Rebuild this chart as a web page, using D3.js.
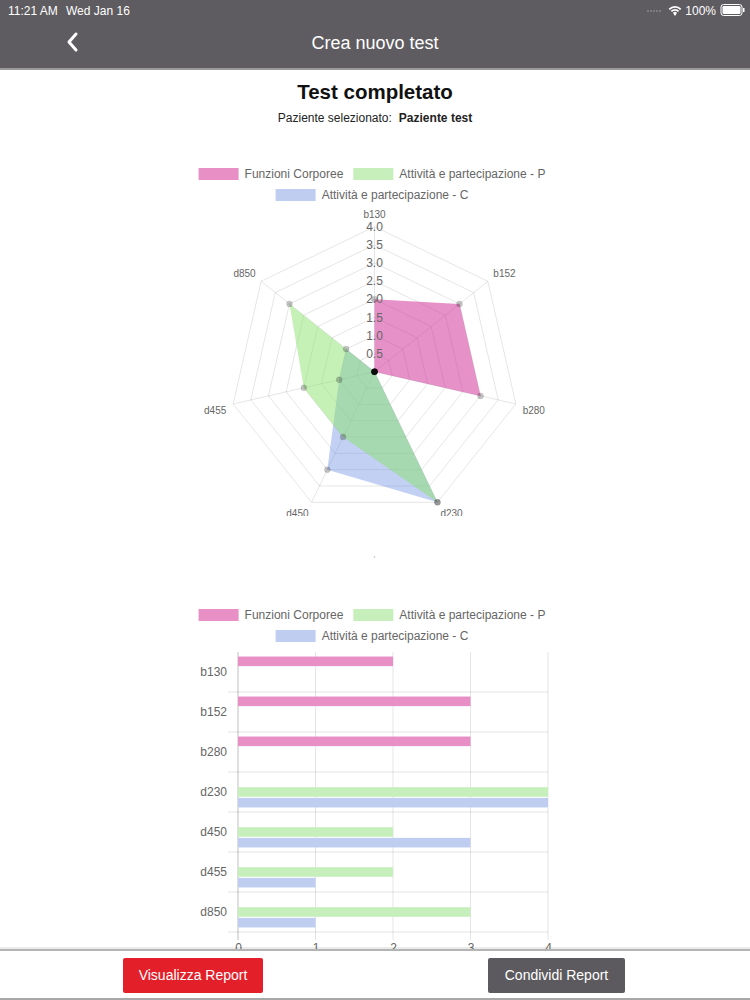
<!DOCTYPE html>
<html>
<head>
<meta charset="utf-8">
<script src="https://cdn.jsdelivr.net/npm/d3@7"></script>
<style>
  body { margin: 0; background: #fff; }
  svg { display: block; font-family: 'Liberation Sans', Arial, sans-serif; }
</style>
</head>
<body>
<div id="app"></div>
<script>
// data
const categories = ['b130', 'b152', 'b280', 'd230', 'd450', 'd455', 'd850']
const funzioniCorporee = [2, 3, 3, 0, 0, 0, 0]
const attivitaP = [0, 0, 0, 4, 2, 2, 3]
const attivitaC = [0, 0, 0, 4, 3, 1, 1]
const seriesNames = ['Funzioni Corporee', 'Attività e partecipazione - P', 'Attività e partecipazione - C']
const radarTicks = [0.5, 1, 1.5, 2, 2.5, 3, 3.5, 4]
const barTicks = [0, 1, 2, 3, 4]

const series = [
  { name: seriesNames[0], values: funzioniCorporee, solid: '#e88fc6', fill: 'rgba(208,46,150,0.52)' },
  { name: seriesNames[1], values: attivitaP, solid: '#c6efbc', fill: 'rgba(140,225,110,0.5)' },
  { name: seriesNames[2], values: attivitaC, solid: '#bfcdf1', fill: 'rgba(120,150,230,0.45)' }
]

const W = 750, H = 1000
const svg = d3.select('#app').append('svg').attr('width', W).attr('height', H)
const grey = '#666'
const gridColor = 'rgba(0,0,0,0.1)'

// ---- header / status bar
svg.append('rect').attr('width', W).attr('height', 68).attr('fill', '#5e5c60')
svg.append('rect').attr('y', 68).attr('width', W).attr('height', 2).attr('fill', '#9a999b')
svg.append('text').attr('x', 8).attr('y', 15).attr('fill', '#fff').attr('font-size', 12)
  .text('11:21 AM')
svg.append('text').attr('x', 66).attr('y', 15).attr('fill', '#fff').attr('font-size', 12)
  .text('Wed Jan 16')
svg.append('text').attr('x', 716).attr('y', 15).attr('fill', '#fff').attr('font-size', 12)
  .attr('text-anchor', 'end').text('100%')
// faint signal dots
svg.append('g').selectAll('circle').data(d3.range(5)).join('circle')
  .attr('cx', d => 648 + d * 3).attr('cy', 11).attr('r', 0.9).attr('fill', '#8d8b8f')
// wifi
const wifi = svg.append('g').attr('transform', 'translate(675,15)')
;[9, 6, 3].forEach(r => {
  wifi.append('path')
    .attr('d', d3.arc()({ innerRadius: r - 1.8, outerRadius: r, startAngle: -Math.PI / 4, endAngle: Math.PI / 4 }))
    .attr('fill', '#fff')
})
wifi.append('circle').attr('cx', 0).attr('cy', -0.5).attr('r', 1.1).attr('fill', '#fff')
// battery
svg.append('rect').attr('x', 721).attr('y', 4.5).attr('width', 21).attr('height', 11).attr('rx', 2.5)
  .attr('fill', 'none').attr('stroke', '#fff').attr('stroke-width', 1)
svg.append('rect').attr('x', 722.5).attr('y', 6).attr('width', 18).attr('height', 8).attr('rx', 1.2).attr('fill', '#fff')
svg.append('rect').attr('x', 743).attr('y', 8).attr('width', 1.5).attr('height', 4).attr('fill', '#fff')
// back chevron + title
svg.append('path').attr('d', 'M76,34 L69,42 L76,50').attr('fill', 'none')
  .attr('stroke', '#fff').attr('stroke-width', 3).attr('stroke-linecap', 'round').attr('stroke-linejoin', 'round')
svg.append('text').attr('x', 375).attr('y', 49).attr('text-anchor', 'middle')
  .attr('fill', '#fff').attr('font-size', 18).text('Crea nuovo test')

// ---- page titles
svg.append('text').attr('x', 375).attr('y', 99).attr('text-anchor', 'middle')
  .attr('font-size', 20.5).attr('font-weight', 'bold').attr('fill', '#111').text('Test completato')
const sub = svg.append('text').attr('x', 375).attr('y', 121.5).attr('text-anchor', 'middle')
  .attr('font-size', 12).attr('fill', '#222')
sub.append('tspan').text('Paziente selezionato:')
sub.append('tspan').attr('dx', 7).attr('font-weight', 'bold').text('Paziente test')

// ---- legend helper (Chart.js style, rows centred)
function measure(txt) {
  const t = svg.append('text').attr('font-size', 12).text(txt)
  const w = t.node().getComputedTextLength()
  t.remove()
  return w
}
function legend(y1, y2) {
  const rows = [[series[0], series[1]], [series[2]]]
  const g = svg.append('g')
  rows.forEach((row, ri) => {
    const widths = row.map(s => 40 + 6 + measure(s.name) + 10)
    const total = d3.sum(widths)
    let x = 377 - total / 2
    const y = ri === 0 ? y1 : y2
    row.forEach((s, i) => {
      g.append('rect').attr('x', x).attr('y', y - 6).attr('width', 40).attr('height', 12).attr('fill', s.solid)
      g.append('text').attr('x', x + 46).attr('y', y).attr('dy', '0.35em')
        .attr('font-size', 12).attr('fill', grey).text(s.name)
      x += widths[i]
    })
  })
}

// ---- radar chart
legend(174, 195)
const cx = 374.5, cy = 371.7
const rScale = d3.scaleLinear().domain([0, 4]).range([0, 145])
const angle = i => i * 2 * Math.PI / categories.length
const pt = (i, v) => [cx + rScale(v) * Math.sin(angle(i)), cy - rScale(v) * Math.cos(angle(i))]

svg.append('defs').append('clipPath').attr('id', 'radarClip')
  .append('rect').attr('x', 0).attr('y', 140).attr('width', W).attr('height', 376)
const radar = svg.append('g').attr('clip-path', 'url(#radarClip)')

// rings
radar.append('g').selectAll('polygon').data(radarTicks).join('polygon')
  .attr('points', v => categories.map((c, i) => pt(i, v).join(',')).join(' '))
  .attr('fill', 'none').attr('stroke', gridColor)
// spokes
radar.append('g').selectAll('line').data(categories).join('line')
  .attr('x1', cx).attr('y1', cy)
  .attr('x2', (c, i) => pt(i, 4)[0]).attr('y2', (c, i) => pt(i, 4)[1])
  .attr('stroke', gridColor)

// datasets, drawn last-to-first like Chart.js
const radarLine = d3.lineRadial().angle((d, i) => angle(i)).radius(d => rScale(d)).curve(d3.curveLinearClosed)
const dsG = radar.append('g').attr('transform', `translate(${cx},${cy})`)
series.slice().reverse().forEach(s => {
  dsG.append('path').attr('d', radarLine(s.values))
    .attr('fill', s.fill).attr('stroke', 'none')
})
series.slice().reverse().forEach(s => {
  dsG.append('g').selectAll('circle').data(s.values).join('circle')
    .attr('cx', (d, i) => rScale(d) * Math.sin(angle(i)))
    .attr('cy', (d, i) => -rScale(d) * Math.cos(angle(i)))
    .attr('r', 3).attr('fill', 'rgba(0,0,0,0.22)').attr('stroke', 'rgba(0,0,0,0.08)')
})

// tick labels
radar.append('g').selectAll('text').data(radarTicks).join('text')
  .attr('x', cx).attr('y', v => cy - rScale(v)).attr('dy', '0.35em')
  .attr('text-anchor', 'middle').attr('font-size', 12).attr('fill', grey)
  .text(v => v.toFixed(1))

// point labels
radar.append('g').selectAll('text').data(categories).join('text')
  .each(function (c, i) {
    const a = angle(i) * 180 / Math.PI
    const lr = rScale(4) + 7
    const x = cx + lr * Math.sin(angle(i))
    const y = cy - lr * Math.cos(angle(i))
    const anchor = (a === 0 || a === 180) ? 'middle' : (a < 180 ? 'start' : 'end')
    let dy = (a < 90 || a > 270) ? '0.05em' : '0.85em'
    if (a === 0) dy = '-0.2em'  // keep clear of the 4.0 tick
    d3.select(this).attr('x', x).attr('y', y).attr('dy', dy).attr('text-anchor', anchor)
  })
  .attr('font-size', 10).attr('fill', grey)
  .text(c => c)

// tiny mark below radar canvas
svg.append('circle').attr('cx', 374.5).attr('cy', 557).attr('r', 0.8).attr('fill', '#bbb')

// ---- horizontal bar chart
legend(615, 636)
const plot = { left: 238, right: 548, top: 652, bottom: 932 }
const x = d3.scaleLinear().domain([0, 4]).range([plot.left, plot.right])
const y = d3.scaleBand().domain(categories).range([plot.top, plot.bottom])
const inner = d3.scaleBand().domain(d3.range(series.length)).range([0, y.bandwidth() * 0.8])
const barH = inner.bandwidth() * 0.9

const bars = svg.append('g')
// horizontal grid lines at band edges
bars.append('g').selectAll('line').data(categories.slice(1).concat(['__end']))
  .join('line')
  .attr('x1', plot.left - 10).attr('x2', plot.right)
  .attr('y1', c => c === '__end' ? plot.bottom : y(c))
  .attr('y2', c => c === '__end' ? plot.bottom : y(c))
  .attr('stroke', gridColor)
// vertical grid lines
bars.append('g').selectAll('line').data(barTicks).join('line')
  .attr('x1', d => x(d)).attr('x2', d => x(d))
  .attr('y1', plot.top).attr('y2', plot.bottom + 8)
  .attr('stroke', d => d === 0 ? 'rgba(0,0,0,0.25)' : gridColor)

series.forEach((s, si) => {
  bars.append('g').selectAll('rect').data(s.values.map((v, i) => ({ v, c: categories[i] })).filter(d => d.v > 0))
    .join('rect')
    .attr('x', x(0))
    .attr('y', d => y(d.c) + y.bandwidth() * 0.1 + inner(si) + (inner.bandwidth() - barH) / 2)
    .attr('width', d => x(d.v) - x(0))
    .attr('height', barH)
    .attr('fill', s.solid)
})

const yAxis = bars.append('g').attr('transform', `translate(${plot.left},0)`)
  .call(d3.axisLeft(y).tickSize(0).tickPadding(11))
yAxis.select('.domain').remove()
yAxis.selectAll('text').attr('font-size', 12).attr('fill', grey).attr('font-family', null)

const xAxis = bars.append('g').attr('transform', `translate(0,${plot.bottom})`)
  .call(d3.axisBottom(x).tickValues(barTicks).tickSize(0).tickPadding(11).tickFormat(d3.format('d')))
xAxis.select('.domain').remove()
xAxis.selectAll('text').attr('font-size', 12).attr('fill', grey).attr('font-family', null)

// ---- bottom toolbar
svg.append('rect').attr('y', 947).attr('width', W).attr('height', 2).attr('fill', 'rgba(0,0,0,0.08)')
svg.append('rect').attr('y', 949).attr('width', W).attr('height', 51).attr('fill', '#fff')
svg.append('rect').attr('y', 949).attr('width', W).attr('height', 2).attr('fill', '#b4b4b4')
svg.append('rect').attr('y', 998).attr('width', W).attr('height', 2).attr('fill', '#a8a8a8')
const buttons = [
  { label: 'Visualizza Report', x: 123, w: 140, color: '#e3202a' },
  { label: 'Condividi Report', x: 488, w: 137, color: '#5c5a5e' }
]
const btn = svg.append('g').selectAll('g').data(buttons).join('g')
btn.append('rect').attr('x', d => d.x).attr('y', 958).attr('width', d => d.w).attr('height', 35)
  .attr('rx', 2).attr('fill', d => d.color)
btn.append('text').attr('x', d => d.x + d.w / 2).attr('y', 975.5).attr('dy', '0.35em')
  .attr('text-anchor', 'middle').attr('font-size', 14).attr('fill', '#fff').text(d => d.label)
</script>
</body>
</html>
